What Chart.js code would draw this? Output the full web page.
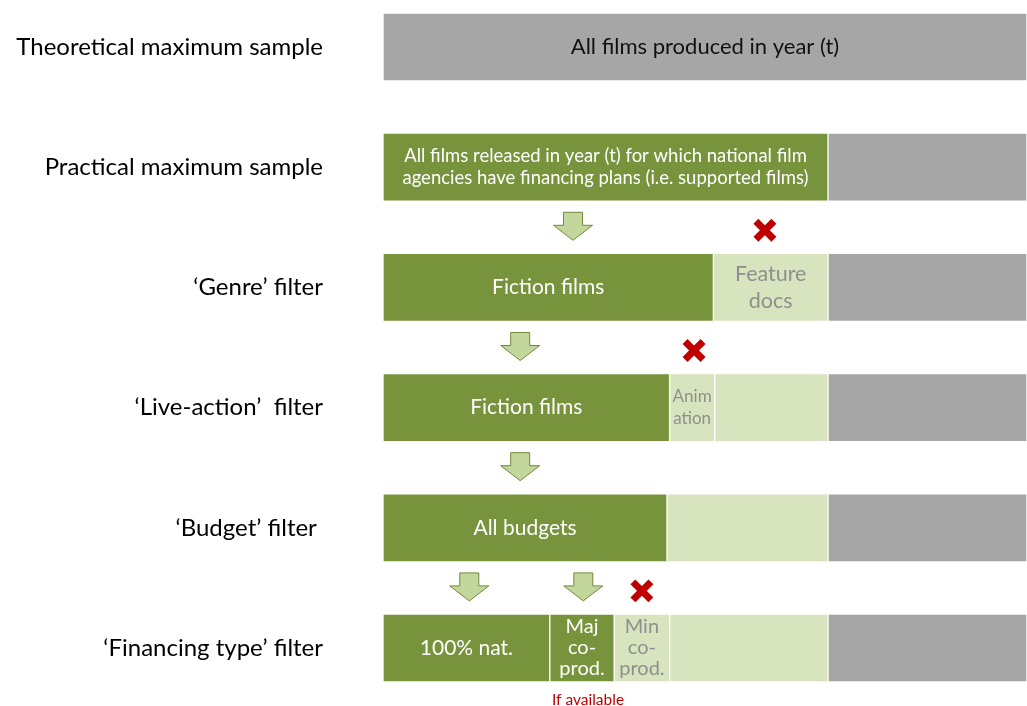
<!DOCTYPE html>
<html>
<head>
<meta charset="utf-8">
<script src="https://cdn.jsdelivr.net/npm/chart.js@4/dist/chart.umd.min.js"></script>
<style>
  html, body { margin: 0; padding: 0; background: #fff; }
  canvas { display: block; }
</style>
</head>
<body>
<canvas id="funnel" width="1027" height="706"></canvas>
<script>
// sample selection steps (rows, top to bottom)
var rowLabels = ['Theoretical maximum sample', 'Practical maximum sample', '\u2018Genre\u2019 filter',
                 '\u2018Live-action\u2019  filter', '\u2018Budget\u2019 filter ', '\u2018Financing type\u2019 filter'];

// segment widths, share of all films produced (%)
var kept      = [null, 69.1, 51.3, 44.5, 44.1, 25.9];   // retained films
var majCoprod = [null, null, null, null, null, 10.0];   // majority co-productions
var excluded  = [null, null, 17.8, 7.0, 25.0, 8.6];     // dropped by the filter
var excluded2 = [null, null, null, 17.6, null, 24.6];   // dropped earlier
var outside   = [100, 30.9, 30.9, 30.9, 30.9, 30.9];    // not in practical sample

// texts written inside the segments
var keptText = [null,
  ['All films released in year (t) for which national film', 'agencies have financing plans (i.e. supported films)'],
  ['Fiction films'], ['Fiction films'], ['All budgets'], ['100% nat.']];
var majText = [null, null, null, null, null, ['Maj', 'co-', 'prod.']];
var excludedText = [null, null, ['Feature', 'docs'], ['Anim', 'ation'], null, ['Min', 'co-', 'prod.']];
var outsideText = [['All films produced in year (t)'], null, null, null, null, null];

// arrows / crosses between step r and r+1 (x in % of all films)
var arrowsAt = [{after: 1, x: 29.5}, {after: 2, x: 21.3}, {after: 3, x: 21.3}, {after: 4, x: 13.4}, {after: 4, x: 31.1}];
var crossesAt = [{after: 1, x: 59.3}, {after: 2, x: 48.3}, {after: 4, x: 40.2}];

var FONT = 'Lato, "Liberation Sans", sans-serif';
var GREEN = '#77933c', LIGHT = '#d7e4bd', GREY = '#a6a6a6', RED = '#c00000';

// font size / line height / colour per dataset
var textStyle = [
  {size: [0, 18.5, 21, 21, 21, 21], lh: 22, color: '#fff'},
  {size: [0, 0, 0, 0, 0, 20], lh: 21, color: '#fff'},
  {size: [0, 0, 21.5, 17, 0, 20], lh: [0, 0, 27, 22, 0, 21], color: '#8f8f8f'},
  {size: [0, 0, 0, 0, 0, 0], lh: 20, color: '#8f8f8f'},
  {size: [22, 0, 0, 0, 0, 0], lh: 20, color: '#111'}
];
var segTexts = [keptText, majText, excludedText, [], outsideText];

var segmentLabels = {
  id: 'segmentLabels',
  afterDatasetsDraw: function(chart) {
    var ctx = chart.ctx;
    ctx.save();
    ctx.textAlign = 'center';
    ctx.textBaseline = 'middle';
    chart.data.datasets.forEach(function(ds, i) {
      var meta = chart.getDatasetMeta(i);
      var st = textStyle[i];
      meta.data.forEach(function(bar, j) {
        var lines = segTexts[i][j];
        if (!lines) return;
        var size = st.size[j];
        var lh = Array.isArray(st.lh) ? st.lh[j] : st.lh;
        ctx.font = size + 'px ' + FONT;
        ctx.fillStyle = st.color;
        var cx = (bar.x + bar.base) / 2;
        var y0 = bar.y - (lines.length - 1) * lh / 2;
        lines.forEach(function(t, k) { ctx.fillText(t, cx, y0 + k * lh); });
      });
    });
    ctx.restore();
  }
};

var markers = {
  id: 'markers',
  afterDraw: function(chart) {
    var ctx = chart.ctx, xs = chart.scales.x, ys = chart.scales.y;
    function gapMid(r) { return (ys.getPixelForValue(r) + ys.getPixelForValue(r + 1)) / 2; }
    ctx.save();
    // block arrows
    arrowsAt.forEach(function(a) {
      var x = xs.getPixelForValue(a.x), top = gapMid(a.after) - 15;
      ctx.beginPath();
      ctx.moveTo(x - 9.5, top);
      ctx.lineTo(x + 9.5, top);
      ctx.lineTo(x + 9.5, top + 13);
      ctx.lineTo(x + 19.5, top + 13);
      ctx.lineTo(x, top + 28);
      ctx.lineTo(x - 19.5, top + 13);
      ctx.lineTo(x - 9.5, top + 13);
      ctx.closePath();
      ctx.fillStyle = '#c3d69b';
      ctx.fill();
      ctx.strokeStyle = '#71893a';
      ctx.lineWidth = 1;
      ctx.stroke();
    });
    // red crosses
    crossesAt.forEach(function(c) {
      var x = xs.getPixelForValue(c.x), y = gapMid(c.after) + 3, h = 9;
      ctx.strokeStyle = RED;
      ctx.lineWidth = 7;
      ctx.lineCap = 'butt';
      ctx.beginPath();
      ctx.moveTo(x - h, y - h); ctx.lineTo(x + h, y + h);
      ctx.moveTo(x + h, y - h); ctx.lineTo(x - h, y + h);
      ctx.stroke();
    });
    // note under the majority co-production segment
    var bar = chart.getDatasetMeta(1).data[5];
    ctx.font = '15.5px ' + FONT;
    ctx.fillStyle = RED;
    ctx.textAlign = 'center';
    ctx.textBaseline = 'middle';
    ctx.fillText('If available', (bar.x + bar.base) / 2 + 6, bar.y + 52);
    ctx.restore();
  }
};

var chart = new Chart(document.getElementById('funnel').getContext('2d'), {
  type: 'bar',
  data: {
    labels: rowLabels,
    datasets: [
      {label: 'Kept', data: kept, backgroundColor: GREEN},
      {label: 'Maj co-prod', data: majCoprod, backgroundColor: GREEN},
      {label: 'Excluded', data: excluded, backgroundColor: LIGHT},
      {label: 'Excluded earlier', data: excluded2, backgroundColor: LIGHT},
      {label: 'Outside sample', data: outside, backgroundColor: GREY}
    ]
  },
  options: {
    indexAxis: 'y',
    responsive: false,
    animation: false,
    layout: {padding: {top: 47, bottom: 58, left: 0, right: 0}},
    datasets: {
      bar: {barThickness: 68, borderColor: '#fff', borderWidth: 1, borderSkipped: false, clip: false}
    },
    scales: {
      x: {stacked: true, min: 0, max: 100, display: false},
      y: {
        stacked: true,
        offset: false,
        grid: {display: false, drawTicks: false},
        border: {display: false},
        ticks: {padding: 60, color: '#000', font: {family: FONT, size: 24}},
        afterFit: function(scale) {
          scale.width = 383;
          scale.paddingTop = 0;
          scale.paddingBottom = 0;
        }
      }
    },
    plugins: {legend: {display: false}, tooltip: {enabled: false}}
  },
  plugins: [segmentLabels, markers]
});
</script>
</body>
</html>
